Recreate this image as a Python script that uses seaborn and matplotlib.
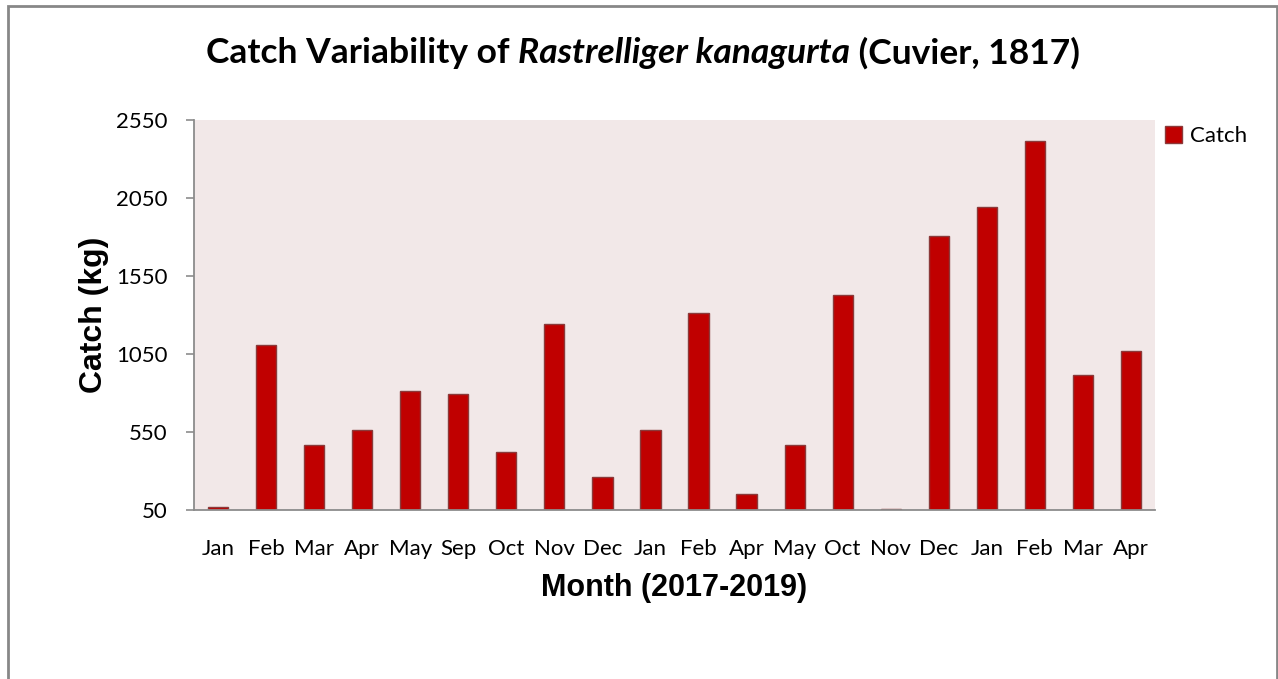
import pandas as pd
import seaborn as sns
import matplotlib.pyplot as plt
from matplotlib.patches import Rectangle

# values
months = ['Jan', 'Feb', 'Mar', 'Apr', 'May', 'Sep', 'Oct', 'Nov', 'Dec', 'Jan',
          'Feb', 'Apr', 'May', 'Oct', 'Nov', 'Dec', 'Jan', 'Feb', 'Mar', 'Apr']
catch_kg = [67, 1108, 469, 565, 813, 796, 422, 1244, 262, 563,
            1311, 153, 469, 1430, 54, 1808, 1994, 2417, 917, 1069]
y_ticks = [50, 550, 1050, 1550, 2050, 2550]

df = pd.DataFrame({'pos': range(len(months)), 'month': months,
                   'catch': catch_kg, 'series': 'Catch'})

sns.set_style('white')
plt.rcParams['font.family'] = ['Lato', 'DejaVu Sans']
plt.rcParams.update({'text.color': 'black', 'axes.labelcolor': 'black',
                     'xtick.color': 'black', 'ytick.color': 'black'})

fig = plt.figure(figsize=(12.78, 6.79), dpi=100)
ax = fig.add_axes([194 / 1278, 1 - 510 / 679, (1155 - 194) / 1278, (510 - 120) / 679])

sns.barplot(data=df, x='pos', y='catch', hue='series', palette={'Catch': '#C00000'},
            saturation=1, width=0.42, edgecolor='#8B3A3A', linewidth=1, ax=ax,
            legend=False)

ax.set_facecolor('#F2E8E8')
ax.set_ylim(50, 2550)
ax.set_yticks(y_ticks)
ax.set_xticks(range(len(months)))
ax.set_xticklabels(months)
ax.set_xlim(-0.5, len(months) - 0.5)

for side in ['top', 'right']:
    ax.spines[side].set_visible(False)
for side in ['left', 'bottom']:
    ax.spines[side].set_color('#8C8C8C')
    ax.spines[side].set_linewidth(1.3)

ax.tick_params(axis='y', length=6, width=1.2, color='#8C8C8C', labelcolor='black',
               pad=13, labelsize=16, direction='out', left=True)
ax.tick_params(axis='x', length=0, pad=21, labelsize=16, labelcolor='black')

ax.set_xlabel('Month (2017-2019)', family='Liberation Sans', fontweight='bold',
              fontsize=22, labelpad=10)
ax.set_ylabel('Catch (kg)', family='Liberation Sans', fontweight='bold',
              fontsize=23, labelpad=5)

ax.legend(handles=[Rectangle((0, 0), 1, 1, facecolor='#C00000', edgecolor='#8B3A3A')],
          labels=['Catch'], loc='upper left', bbox_to_anchor=(0.99, 1.035),
          frameon=False, fontsize=16, handlelength=0.75, handleheight=0.75,
          handletextpad=0.35)

# title with italic species name, pieces laid side by side
parts = [('Catch Variability of ', 'normal'), ('Rastrelliger kanagurta', 'italic'),
         (' (Cuvier, 1817)', 'normal')]
fig.canvas.draw()
renderer = fig.canvas.get_renderer()
texts = []
for s, st in parts:
    t = fig.text(0, 1 - 53 / 679, s, fontsize=25.5, fontweight='bold', style=st,
                 va='center', ha='left', color='black')
    texts.append(t)
widths = [t.get_window_extent(renderer).width for t in texts]
x = 643 - sum(widths) / 2
for t, w in zip(texts, widths):
    t.set_x(x / 1278)
    x += w

# chart border
fig.patches.append(Rectangle((8 / 1278, -0.05), (1277 - 8) / 1278, 1.05 - 6 / 679,
                             transform=fig.transFigure, fill=False,
                             edgecolor='#878787', linewidth=2))

plt.savefig('out.png', dpi=100)
